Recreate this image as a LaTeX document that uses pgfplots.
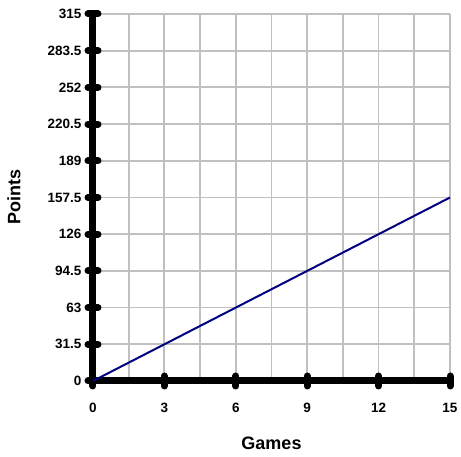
\documentclass[border=0pt]{standalone}
\usepackage{pgfplots}
\pgfplotsset{compat=1.18}
\usepackage{fontspec}
\setmainfont{Liberation Sans}
\definecolor{gridgray}{RGB}{192,192,192}
\definecolor{navyline}{RGB}{0,0,128}
\begin{document}
\begin{tikzpicture}
\begin{axis}[
    name=main,
    scale only axis,
    width=357pt,
    height=367pt,
    xmin=0, xmax=15,
    ymin=0, ymax=315,
    xtick={0,3,...,15},
    ytick={0,31.5,...,315},
    minor x tick num=1,
    axis x line=bottom,
    axis y line=left,
    axis line style={line width=7pt, -, line cap=round},
    major tick length=10pt,
    minor tick length=0pt,
    tick align=center,
    major tick style={line width=7pt, black, line cap=round},
    grid=both,
    major grid style={gridgray, line width=1.8pt},
    minor grid style={gridgray, line width=1.8pt},
    scaled y ticks=false,
    /pgf/number format/assume math mode=true,
    /pgf/number format/fixed,
    ticklabel style={font=\fontsize{13.5}{15}\selectfont\bfseries},
    xticklabel style={anchor=center, yshift=-22pt},
    yticklabel style={anchor=east, xshift=-3pt},
    xlabel={Games},
    ylabel={Points},
    label style={font=\fontsize{18}{20}\selectfont\bfseries},
    xlabel style={at={(axis description cs:0.5,0)}, anchor=center, yshift=-62pt},
    ylabel style={at={(axis description cs:0,0.5)}, anchor=center, rotate=0, yshift=79pt},
    clip=false,
]
\addplot[navyline, line width=2pt] coordinates {
    (0,0) (3,31.5) (6,63) (9,94.5) (12,126) (15,157.5)
};
\end{axis}
\path ([xshift=-93pt,yshift=-76pt]main.south west) rectangle ([xshift=11pt,yshift=14pt]main.north east);
\end{tikzpicture}
\end{document}
